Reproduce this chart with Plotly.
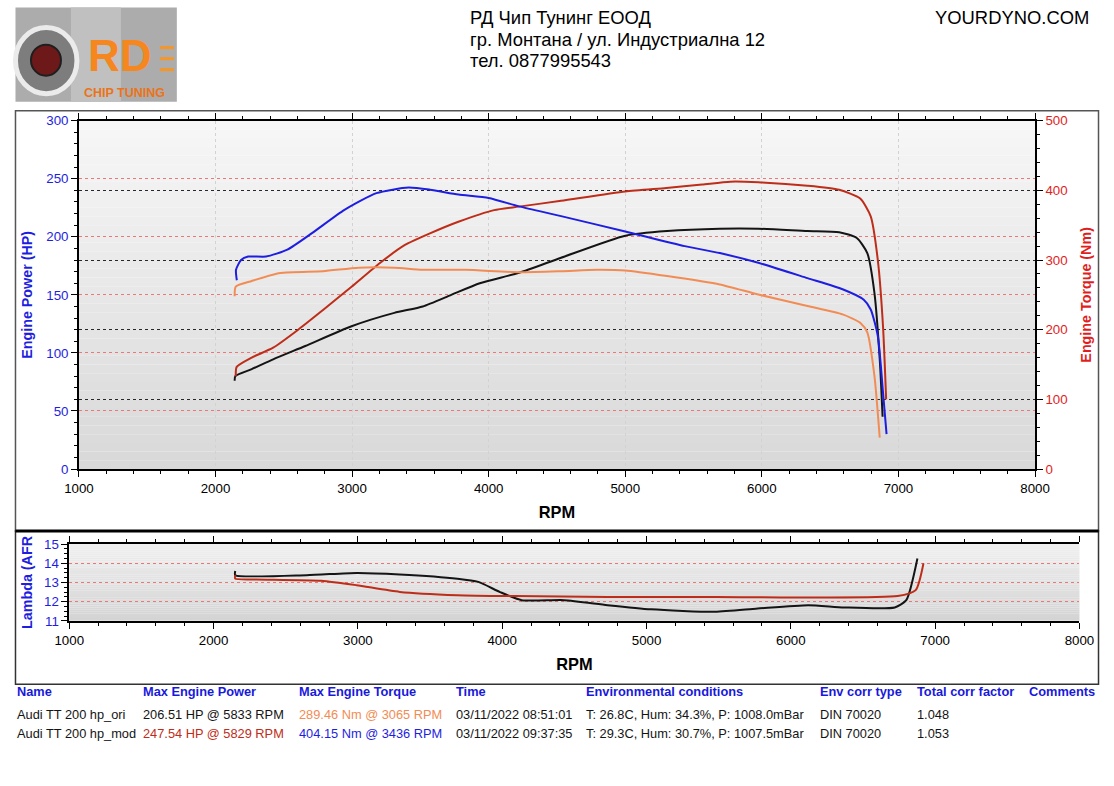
import plotly.graph_objects as go

# --- data read from the dyno sheet ---
rpm_ori_power = [2140, 2145, 2265, 2422, 2657, 2996, 3309, 3517, 3726, 3935, 4222, 4530,
                 5000, 5306, 5692, 5974, 6334, 6566, 6695, 6772, 6824, 6863, 6884]
ori_power = [76, 80, 86, 94.5, 106, 123, 134.5, 140, 150, 160, 169, 182,
             201, 205, 207, 207, 205, 204, 199, 186, 152, 94.5, 45]

rpm_ori_torque = [2140, 2148, 2265, 2474, 2787, 3048, 3309, 3517, 3830, 4222, 4530, 4791,
                  5000, 5306, 5692, 5974, 6334, 6591, 6720, 6772, 6824, 6863]
ori_torque = [248, 262, 270, 281.5, 284, 289, 289, 286, 286, 282.5, 284, 286,
              285, 277, 265, 250.5, 234, 222, 210, 196, 134, 45]

rpm_mod_power = [2148, 2155, 2265, 2422, 2605, 2787, 2996, 3204, 3387, 3570, 3778, 4040, 4222,
                 4530, 5000, 5300, 5563, 5769, 5974, 6334, 6566, 6720, 6797, 6849, 6887, 6910]
mod_power = [80, 88, 96, 104.5, 120, 137, 157, 177.5, 193, 203, 213, 223, 226,
             231, 239, 242, 245, 247.5, 247, 244, 240.5, 233, 217.6, 180, 123, 60]

rpm_mod_torque = [2156, 2150, 2187, 2239, 2370, 2526, 2709, 2944, 3178, 3413, 3570, 3778, 4000,
                  4222, 4530, 5000, 5435, 5692, 5974, 6334, 6591, 6746, 6797, 6849, 6887, 6913]
mod_torque = [271, 286, 300, 305, 305, 315, 339, 372, 396, 404, 401, 394, 389,
              377, 363, 341, 320, 310, 296, 274, 258, 243, 229, 191, 110, 50]

rpm_ori_afr = [2150, 2150, 2645, 2990, 3290, 3690, 3835, 3985, 4135, 4430, 4730, 5030,
               5475, 5770, 6120, 6370, 6720, 6800, 6877]
ori_afr = [13.6, 13.38, 13.38, 13.5, 13.42, 13.2, 13.03, 12.5, 12.08, 12.08, 11.82, 11.6,
           11.47, 11.64, 11.82, 11.7, 11.7, 12.08, 14.25]

rpm_mod_afr = [2150, 2150, 2295, 2745, 2990, 3290, 3690, 4085, 4730, 5475, 6740, 6865, 6919]
mod_afr = [13.38, 13.2, 13.16, 13.09, 12.86, 12.51, 12.34, 12.29, 12.25, 12.25, 12.29, 12.6, 14.0]

table_cols = ["Name", "Max Engine Power", "Max Engine Torque", "Time",
              "Environmental conditions", "Env corr type", "Total corr factor", "Comments"]
row_ori = ["Audi TT 200 hp_ori", "206.51 HP @ 5833 RPM", "289.46 Nm @ 3065 RPM",
           "03/11/2022 08:51:01", "T: 26.8C, Hum: 34.3%, P: 1008.0mBar", "DIN 70020", "1.048", ""]
row_mod = ["Audi TT 200 hp_mod", "247.54 HP @ 5829 RPM", "404.15 Nm @ 3436 RPM",
           "03/11/2022 09:37:35", "T: 29.3C, Hum: 30.7%, P: 1007.5mBar", "DIN 70020", "1.053", ""]

header_lines = ["РД Чип Тунинг ЕООД", "гр. Монтана / ул. Индустриална 12", "тел. 0877995543"]

# --- colours / geometry ---
BLUE = "rgb(30,30,225)"
RED = "rgb(190,45,25)"
ORANGE = "rgb(242,140,85)"
BLACK = "rgb(20,20,20)"
W, H = 1114, 786
FONT = "Liberation Sans, Arial, sans-serif"

# the photographed page comes back slightly shrunk and shifted; positions below are
# given in reference pixels and mapped back to page pixels
SX, OX = 0.974, 14.0
SY, OY = 0.980, 7.4
FS = 1.025  # font growth to undo the shrink


def px(x):
    p = (x - OX) / SX
    return min(max(p, 0.5), W - 0.5) / W


def py(y):
    p = (y - OY) / SY
    return 1 - min(max(p, 0.5), H - 0.5) / H


def f(size):
    return round(size * FS, 1)


fig = go.Figure()

line_kw = dict(shape="spline", smoothing=0.6)
fig.add_trace(go.Scatter(x=rpm_ori_power, y=ori_power, mode="lines",
                         line=dict(color=BLACK, width=2, **line_kw), xaxis="x", yaxis="y"))
fig.add_trace(go.Scatter(x=rpm_mod_power, y=mod_power, mode="lines",
                         line=dict(color=RED, width=2, **line_kw), xaxis="x", yaxis="y"))
fig.add_trace(go.Scatter(x=rpm_ori_torque, y=ori_torque, mode="lines",
                         line=dict(color=ORANGE, width=2, **line_kw), xaxis="x", yaxis="y2"))
fig.add_trace(go.Scatter(x=rpm_mod_torque, y=mod_torque, mode="lines",
                         line=dict(color=BLUE, width=2, **line_kw), xaxis="x", yaxis="y2"))
fig.add_trace(go.Scatter(x=rpm_ori_afr, y=ori_afr, mode="lines",
                         line=dict(color=BLACK, width=2, **line_kw), xaxis="x2", yaxis="y3"))
fig.add_trace(go.Scatter(x=rpm_mod_afr, y=mod_afr, mode="lines",
                         line=dict(color=RED, width=2, **line_kw), xaxis="x2", yaxis="y3"))

shapes = []
# gradient backgrounds for both plot areas
n = 40
for i in range(n):
    t = i / (n - 1)
    g = int(247 - 30 * t)
    shapes.append(dict(type="rect", xref="x domain", yref="y domain", layer="below",
                       x0=0, x1=1, y0=1 - (i + 1) / n, y1=1 - i / n,
                       fillcolor=f"rgb({g},{g},{g})", line=dict(width=0)))
    g2 = int(240 - 28 * t)
    shapes.append(dict(type="rect", xref="x2 domain", yref="y3 domain", layer="below",
                       x0=0, x1=1, y0=1 - (i + 1) / n, y1=1 - i / n,
                       fillcolor=f"rgb({g2},{g2},{g2})", line=dict(width=0)))

# frames
shapes.append(dict(type="rect", xref="paper", yref="paper", x0=px(5), x1=px(1106),
                   y0=py(531), y1=py(111), line=dict(color="#555", width=1.5)))
shapes.append(dict(type="rect", xref="paper", yref="paper", x0=px(5), x1=px(1106),
                   y0=py(684), y1=py(531), line=dict(color="#333", width=1.5)))
shapes.append(dict(type="line", xref="paper", yref="paper", x0=px(5), x1=px(1106),
                   y0=py(531), y1=py(531), line=dict(color="black", width=3)))

# logo
shapes.append(dict(type="rect", xref="paper", yref="paper", x0=px(5), x1=px(176),
                   y0=py(102), y1=py(6), fillcolor="rgb(172,172,172)", line=dict(width=0)))
shapes.append(dict(type="rect", xref="paper", yref="paper", x0=px(70), x1=px(120),
                   y0=py(102), y1=py(6), fillcolor="rgb(192,192,192)", line=dict(width=0)))
shapes.append(dict(type="circle", xref="paper", yref="paper", x0=px(14), x1=px(76),
                   y0=py(94), y1=py(28), fillcolor="rgb(125,125,125)",
                   line=dict(color="rgb(235,235,235)", width=5)))
shapes.append(dict(type="circle", xref="paper", yref="paper", x0=px(30), x1=px(60),
                   y0=py(76), y1=py(45), fillcolor="rgb(110,25,25)",
                   line=dict(color="rgb(30,30,30)", width=2)))
for dy in (48, 59, 70):
    shapes.append(dict(type="line", xref="paper", yref="paper", x0=px(159), x1=px(173),
                       y0=py(dy), y1=py(dy), line=dict(color="rgb(245,150,40)", width=3)))

annotations = []
annotations.append(dict(text="<b>RD</b>", x=px(119), y=py(56), xref="paper", yref="paper",
                        xanchor="center", yanchor="middle", showarrow=False,
                        font=dict(family=FONT, size=44, color="rgb(245,135,30)")))
annotations.append(dict(text="<b>CHIP TUNING</b>", x=px(124), y=py(93), xref="paper", yref="paper",
                        xanchor="center", yanchor="middle", showarrow=False,
                        font=dict(family=FONT, size=12.5, color="rgb(235,115,25)")))

for i, txt in enumerate(header_lines):
    annotations.append(dict(text=txt, x=px(467), y=py(18 + i * 21.5), xref="paper", yref="paper",
                            xanchor="left", yanchor="middle", showarrow=False,
                            font=dict(family=FONT, size=f(18), color="black")))
annotations.append(dict(text="YOURDYNO.COM", x=px(1091), y=py(18), xref="paper", yref="paper",
                        xanchor="right", yanchor="middle", showarrow=False,
                        font=dict(family=FONT, size=f(18), color="black")))

# table
col_x = [8, 140, 296, 453, 584, 818, 915, 1027]
for cx, name in zip(col_x, table_cols):
    annotations.append(dict(text=f"<b>{name}</b>", x=px(cx), y=py(691), xref="paper", yref="paper",
                            xanchor="left", yanchor="middle", showarrow=False,
                            font=dict(family=FONT, size=f(12.5), color="rgb(25,25,220)")))
row_colors = [
    [BLACK, BLACK, ORANGE, BLACK, BLACK, BLACK, BLACK, BLACK],
    [BLACK, RED, BLUE, BLACK, BLACK, BLACK, BLACK, BLACK],
]
for r, (row, ry) in enumerate([(row_ori, 714), (row_mod, 733)]):
    for cx, val, col in zip(col_x, row, row_colors[r]):
        if not val:
            continue
        annotations.append(dict(text=val, x=px(cx), y=py(ry), xref="paper", yref="paper",
                                xanchor="left", yanchor="middle", showarrow=False,
                                font=dict(family=FONT, size=f(12.5), color=col)))

tick_font = dict(family=FONT, size=f(13))
minor_x = dict(dtick=200, ticks="outside", ticklen=3, tickcolor="black", showgrid=False)

fig.update_layout(
    width=W, height=H,
    margin=dict(l=0, r=0, t=0, b=0),
    paper_bgcolor="white", plot_bgcolor="white",
    showlegend=False,
    shapes=shapes, annotations=annotations,
    xaxis=dict(domain=[px(78), px(1035)], anchor="y", range=[1000, 8000], dtick=1000,
               showline=True, linecolor="black", linewidth=1.5, mirror="ticks",
               ticks="outside", ticklen=6, tickcolor="black", minor=minor_x,
               showgrid=True, gridcolor="rgb(210,210,210)", griddash="dot", gridwidth=1,
               zeroline=False, tickfont=dict(color="black", **tick_font),
               title=dict(text="<b>RPM</b>", font=dict(family=FONT, size=f(16), color="black"),
                          standoff=12)),
    yaxis=dict(domain=[py(469), py(121)], anchor="x", range=[0, 300], dtick=50,
               showline=True, linecolor="black", linewidth=1.5,
               ticks="outside", ticklen=6, tickcolor="black",
               minor=dict(dtick=10, ticks="outside", ticklen=3, tickcolor="black", showgrid=False),
               showgrid=True, gridcolor="rgb(235,120,120)", griddash="dot", gridwidth=1,
               zeroline=False, tickfont=dict(color=BLUE, **tick_font),
               title=dict(text="<b>Engine Power (HP)</b>",
                          font=dict(family=FONT, size=f(14), color=BLUE), standoff=10)),
    yaxis2=dict(overlaying="y", side="right", anchor="x", range=[0, 500], dtick=100,
                showline=True, linecolor="black", linewidth=1.5,
                ticks="outside", ticklen=6, tickcolor="black",
                minor=dict(dtick=20, ticks="outside", ticklen=3, tickcolor="black", showgrid=False),
                showgrid=True, gridcolor="rgb(40,40,40)", griddash="dot", gridwidth=1,
                zeroline=False, tickfont=dict(color="rgb(225,30,30)", **tick_font),
                title=dict(text="<b>Engine Torque (Nm)</b>",
                           font=dict(family=FONT, size=f(14), color="rgb(225,30,30)"), standoff=14)),
    xaxis2=dict(domain=[px(68.3), px(1079.5)], anchor="y3", range=[1000, 8000], dtick=1000,
                showline=True, linecolor="black", linewidth=1.5, mirror="ticks",
                ticks="outside", ticklen=6, tickcolor="black", minor=minor_x,
                showgrid=False, zeroline=False, tickfont=dict(color="black", **tick_font),
                title=dict(text="<b>RPM</b>", font=dict(family=FONT, size=f(16), color="black"),
                           standoff=12)),
    yaxis3=dict(domain=[py(620.7), py(544)], anchor="x2", range=[11, 15], dtick=1,
                showline=True, linecolor="black", linewidth=1.5,
                ticks="outside", ticklen=6, tickcolor="black",
                minor=dict(dtick=0.25, ticks="outside", ticklen=3, tickcolor="black", showgrid=False),
                showgrid=True, gridcolor="rgb(235,120,120)", griddash="dot", gridwidth=1,
                zeroline=False, tickfont=dict(color=BLUE, **tick_font),
                title=dict(text="<b>Lambda (AFR</b>",
                           font=dict(family=FONT, size=f(14), color=BLUE), standoff=8)),
)

# drop the default body margin so the figure starts at the window corner
fig.write_html("out.html", post_script="document.body.style.margin='0';",
               config={"displayModeBar": False})
